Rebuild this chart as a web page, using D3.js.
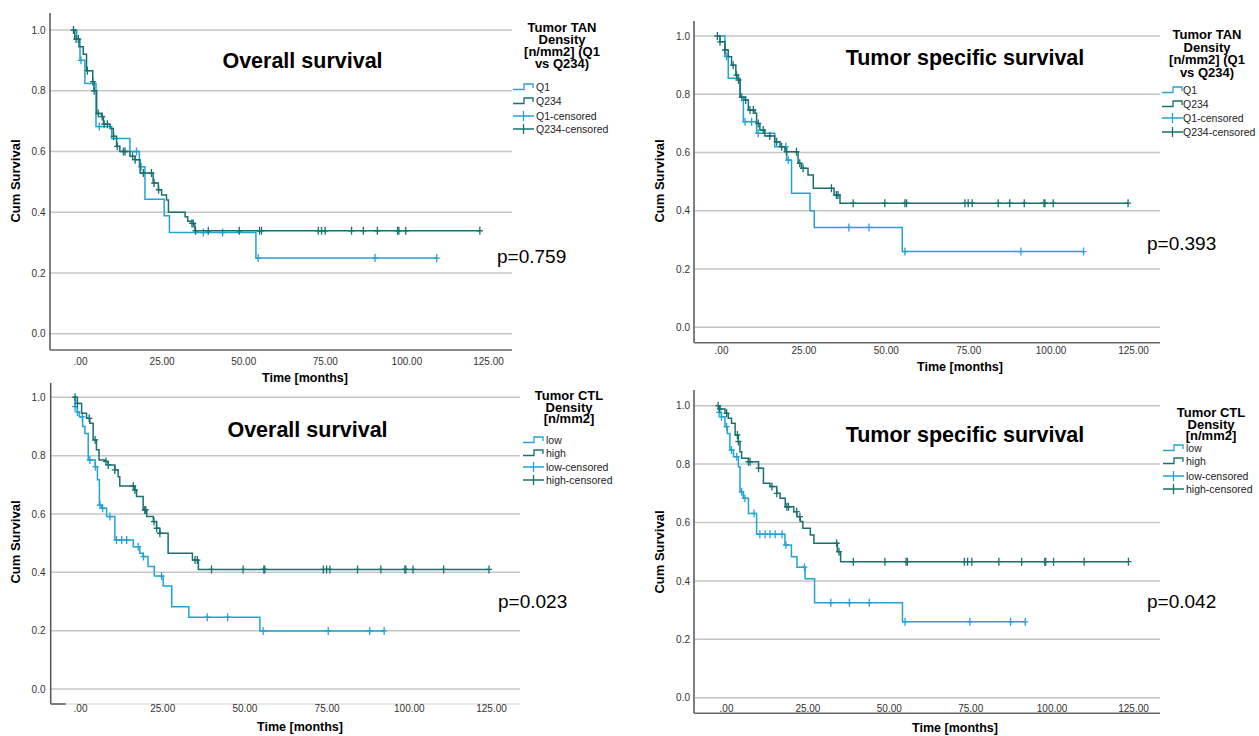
<!DOCTYPE html>
<html>
<head>
<meta charset="utf-8">
<script src="https://cdn.jsdelivr.net/npm/d3@7"></script>
<style>
  body { margin: 0; background: #fff; }
  svg { display: block; }
  text { font-family: "Liberation Sans", Arial, sans-serif; }
</style>
</head>
<body>
<svg id="chart" width="1259" height="736"></svg>
<script>
// axis ticks shared by the four panels
const xTicks = [0, 25, 50, 75, 100, 125];
const xTickLabels = [".00", "25.00", "50.00", "75.00", "100.00", "125.00"];
const yTicks = [0, 0.2, 0.4, 0.6, 0.8, 1.0];
const yTickLabels = ["0.0", "0.2", "0.4", "0.6", "0.8", "1.0"];

// Overall survival, TAN density (Q1 vs Q234): [months, cum survival]
const osTanQ1 = [[-2.2, 1], [-1, 0.97], [0, 0.9], [1.5, 0.824], [4.9, 0.682], [9.7, 0.643], [15.3, 0.6], [18.2, 0.55],
  [19.9, 0.443], [25.8, 0.388], [27.4, 0.333], [53.9, 0.249], [109.3, 0.249]];
const osTanQ1Cens = [0.3, 5.9, 17.3, 18.7, 37.8, 43.7, 54.6, 90.4, 109.3];
const osTanQ234 = [[-2.2, 1], [-1.6, 0.97], [-0.3, 0.945], [1.0, 0.92], [2.0, 0.866], [3.9, 0.83], [4.3, 0.8], [5.1, 0.725],
  [6.6, 0.715], [7.2, 0.69], [9.2, 0.676], [10.2, 0.65], [11.2, 0.617], [12.2, 0.6], [15.3, 0.584], [16.8, 0.573],
  [18.4, 0.529], [22.4, 0.496], [24, 0.474], [25, 0.457], [26.5, 0.44], [27.1, 0.4], [32.2, 0.385], [33, 0.37],
  [34.2, 0.363], [35.2, 0.339], [122.5, 0.339]];
const osTanQ234Cens = [-2.0, -1.2, -0.5, 2.25, 3.95, 4.35, 5.6, 6.8, 7.4, 8.4, 10.3, 11.4, 13.3, 13.8, 16.1, 16.9, 19.4,
  21.9, 22.7, 24.1, 34.3, 34.7, 35.4, 39.3, 48.8, 55, 55.6, 73, 74, 75.1, 83.2, 86.8, 91.1, 97.3, 97.7, 99.8, 122.5];

// Tumor specific survival, TAN density
const tssTanQ1 = [[-1.1, 1], [1.2, 0.93], [2.2, 0.855], [5.8, 0.79], [6.8, 0.706], [10.8, 0.666], [16.3, 0.62],
  [19.9, 0.574], [21.4, 0.46], [27, 0.4], [28.3, 0.343], [55, 0.26], [110, 0.26]];
const tssTanQ1Cens = [1.7, 7.3, 9.3, 11.3, 19.7, 20.4, 38.8, 44.9, 55.8, 91, 110];
const tssTanQ234 = [[-1.1, 1], [-0.3, 0.98], [1.2, 0.952], [2.2, 0.929], [3.2, 0.9], [4.5, 0.866], [5.2, 0.849],
  [5.8, 0.79], [7.3, 0.78], [8.3, 0.746], [10.3, 0.735], [10.8, 0.7], [11.8, 0.677], [13.3, 0.657], [16.3, 0.637],
  [17.9, 0.62], [19.4, 0.603], [23.4, 0.563], [24.4, 0.546], [26.4, 0.523], [28, 0.477], [34.3, 0.454],
  [36.1, 0.426], [123.5, 0.426]];
const tssTanQ234Cens = [-1.1, -0.3, 1.2, 3.7, 4.7, 5.3, 6.3, 7.5, 8.8, 9.8, 11.3, 12.8, 14.8, 16.9, 18.4, 19.9, 22.9,
  23.9, 24.9, 33.5, 35, 35.5, 40.1, 49.7, 55.8, 56.3, 74, 75, 76.2, 84.1, 87.6, 92, 98, 98.3, 100.8, 123.5];

// Overall survival, CTL density (low vs high)
const osCtlLow = [[-2, 1], [-1.5, 0.968], [-0.8, 0.95], [-0.2, 0.933], [0.8, 0.9], [1.5, 0.876], [2.5, 0.785],
  [4.6, 0.762], [5.3, 0.717], [5.9, 0.63], [6.6, 0.62], [8.1, 0.591], [10.6, 0.511], [16.2, 0.488], [18.2, 0.465],
  [19.2, 0.454], [20.7, 0.42], [22.6, 0.387], [25.3, 0.353], [27.9, 0.282], [33.1, 0.246], [54.7, 0.199], [92.5, 0.199]];
const osCtlLowCens = [-1.5, -0.8, 0.7, 3.0, 4.7, 6.1, 6.9, 9.1, 11.1, 12.7, 14.2, 17.7, 19.3, 24.8, 38.7, 44.9, 55.7,
  75.5, 88.1, 92.5];
const osCtlHigh = [[-2, 1], [-0.8, 0.979], [0.5, 0.945], [2, 0.928], [3, 0.911], [4, 0.854], [5, 0.82], [5.8, 0.785],
  [7.6, 0.78], [8.6, 0.768], [10.6, 0.751], [11.6, 0.728], [12.1, 0.696], [16.7, 0.682], [17.2, 0.66], [19.2, 0.614],
  [20.3, 0.591], [22.3, 0.574], [23.3, 0.551], [24.3, 0.534], [26.8, 0.465], [34.2, 0.442], [36, 0.41], [124.4, 0.41]];
const osCtlHighCens = [-1.5, -0.8, 2.8, 4.6, 7.9, 8.6, 10.6, 16.2, 16.7, 19.7, 20.0, 22.5, 23.3, 24.3, 35, 35.7, 40,
  49.6, 55.9, 56.2, 74, 75, 76, 84.4, 91.5, 98.8, 99.1, 101.3, 110.6, 124.4];

// Tumor specific survival, CTL density
const tssCtlLow = [[-2.7, 1], [-2.1, 0.977], [-1.4, 0.962], [-0.3, 0.928], [0.4, 0.905], [1.2, 0.848], [2.3, 0.825],
  [3.8, 0.791], [4.3, 0.705], [5.3, 0.683], [6.9, 0.631], [9.4, 0.56], [18.1, 0.523], [20.1, 0.483], [21.8, 0.447],
  [24.3, 0.407], [27.2, 0.325], [54.2, 0.26], [91.9, 0.26]];
const tssCtlLowCens = [-2.1, -1.4, 0.2, 1.7, 3.3, 4.8, 5.8, 8.6, 10.4, 12, 13.5, 15.1, 17.2, 18.4, 24.1, 32.2, 37.9,
  44, 55, 74.9, 87.4, 91.9];
const tssCtlHigh = [[-2.7, 1], [-1.9, 0.989], [-0.3, 0.974], [0.7, 0.957], [1.7, 0.94], [2.8, 0.9], [3.8, 0.877],
  [4.3, 0.842], [4.8, 0.82], [6.9, 0.808], [10, 0.786], [11.5, 0.734], [13.5, 0.723], [15.6, 0.7], [16.6, 0.683],
  [18.2, 0.654], [20.8, 0.637], [21.8, 0.62], [22.8, 0.603], [23.6, 0.58], [25.9, 0.557], [27, 0.529], [34.2, 0.5],
  [35.2, 0.466], [123.6, 0.466]];
const tssCtlHighCens = [-2.4, -1.9, 0.2, 3.5, 3.8, 6.9, 7.4, 10, 14.1, 15.6, 18.7, 19.2, 21.7, 22.7, 34, 34.7, 39.1,
  48.8, 55.3, 55.7, 73.2, 74.2, 75.5, 83.8, 90.8, 97.9, 98.2, 100.6, 110, 123.6];

const colors = ["#22a3d3", "#17716f"]; // light group, dark group

const panels = [
  { title: "Overall survival", legendTitle: ["Tumor TAN", "Density", "[n/mm2] (Q1", "vs Q234)"],
    groups: ["Q1", "Q234"], series: [osTanQ1, osTanQ234], censors: [osTanQ1Cens, osTanQ234Cens], p: "p=0.759",
    box: { left: 50, right: 512, top: 13, bottom: 350, x0: 80, x125: 488, y0: 333.7, y1: 30, xLabY: 365, yLabR: 45.5,
      titleX: 302.5, titleY: 68, legX: 562, legY: [32, 44, 56, 68], symX: 513, itemX: 536, itemY: [87, 101, 116, 129],
      pX: 497, pY: 263, timeX: 305, timeY: 382, cumX: 15, cumY: 181, faintBottom: false } },
  { title: "Tumor specific survival", legendTitle: ["Tumor TAN", "Density", "[n/mm2] (Q1", "vs Q234)"],
    groups: ["Q1", "Q234"], series: [tssTanQ1, tssTanQ234], censors: [tssTanQ1Cens, tssTanQ234Cens], p: "p=0.393",
    box: { left: 694, right: 1160, top: 21, bottom: 342.7, x0: 721, x125: 1133, y0: 327.3, y1: 36, xLabY: 354, yLabR: 690,
      titleX: 965, titleY: 65, legX: 1207, legY: [39, 51.5, 64, 76.5], symX: 1162, itemX: 1183, itemY: [90, 104, 118, 132],
      pX: 1147, pY: 250, timeX: 960, timeY: 371, cumX: 659, cumY: 181, faintBottom: false } },
  { title: "Overall survival", legendTitle: ["Tumor CTL", "Density", "[n/mm2]"],
    groups: ["low", "high"], series: [osCtlLow, osCtlHigh], censors: [osCtlLowCens, osCtlHighCens], p: "p=0.023",
    box: { left: 50.7, right: 520, top: 383, bottom: 704, x0: 80, x125: 491, y0: 689, y1: 397.3, xLabY: 712, yLabR: 45.5,
      titleX: 307.5, titleY: 437, legX: 569, legY: [400, 411.5, 423], symX: 523, itemX: 546, itemY: [440, 453, 467, 480],
      pX: 498, pY: 608, timeX: 300, timeY: 731, cumX: 15, cumY: 542, faintBottom: true } },
  { title: "Tumor specific survival", legendTitle: ["Tumor CTL", "Density", "[n/mm2]"],
    groups: ["low", "high"], series: [tssCtlLow, tssCtlHigh], censors: [tssCtlLowCens, tssCtlHighCens], p: "p=0.042",
    box: { left: 694, right: 1160, top: 390, bottom: 713.3, x0: 726, x125: 1133, y0: 697.7, y1: 405.7, xLabY: 712, yLabR: 690,
      titleX: 965, titleY: 442, legX: 1211, legY: [417, 428.5, 440], symX: 1163, itemX: 1186, itemY: [448, 461, 476, 489],
      pX: 1147, pY: 608, timeX: 955, timeY: 732, cumX: 659, cumY: 552, faintBottom: false } }
];

const svg = d3.select("#chart");

// value of a step curve at time t
function survAt(steps, t) {
  let s = steps[0][1];
  steps.forEach(d => { if (d[0] <= t) s = d[1]; });
  return s;
}

function drawPanel(p) {
  const b = p.box;
  const g = svg.append("g");
  const x = d3.scaleLinear().domain([0, 125]).range([b.x0, b.x125]);
  const y = d3.scaleLinear().domain([0, 1]).range([b.y0, b.y1]);

  // gridlines
  g.selectAll(".grid").data(yTicks).enter().append("line")
    .attr("x1", b.left).attr("x2", b.right)
    .attr("y1", d => y(d)).attr("y2", d => y(d))
    .attr("stroke", "#c6c6c6").attr("stroke-width", 1.5);

  // axis lines
  g.append("line").attr("x1", b.left).attr("x2", b.left).attr("y1", b.top).attr("y2", b.bottom)
    .attr("stroke", "#555").attr("stroke-width", 1.5);
  if (b.faintBottom) {
    g.append("line").attr("x1", b.left).attr("x2", b.right).attr("y1", b.bottom).attr("y2", b.bottom)
      .attr("stroke", "#e2e2e2").attr("stroke-width", 1.5);
    g.append("line").attr("x1", b.left).attr("x2", b.left + 15).attr("y1", b.bottom).attr("y2", b.bottom)
      .attr("stroke", "#555").attr("stroke-width", 1.5);
  } else {
    g.append("line").attr("x1", b.left).attr("x2", b.right).attr("y1", b.bottom).attr("y2", b.bottom)
      .attr("stroke", "#666").attr("stroke-width", 1.5);
  }

  // tick labels via d3 axes (no tick marks, no domain)
  const xAxis = g.append("g").attr("transform", `translate(0,${b.xLabY - 7})`)
    .call(d3.axisBottom(x).tickValues(xTicks).tickSize(0).tickPadding(0)
      .tickFormat((d, i) => xTickLabels[i]));
  const yAxis = g.append("g").attr("transform", `translate(${b.yLabR},0)`)
    .call(d3.axisLeft(y).tickValues(yTicks).tickSize(0).tickPadding(0)
      .tickFormat((d, i) => yTickLabels[i]));
  [xAxis, yAxis].forEach(a => {
    a.select(".domain").remove();
    a.selectAll("text").style("font-family", "'Liberation Sans', Arial, sans-serif")
      .style("font-size", "10px").attr("fill", "#333");
  });

  // survival curves
  const line = d3.line().x(d => x(d[0])).y(d => y(d[1])).curve(d3.curveStepAfter);
  p.series.forEach((s, i) => {
    g.append("path").datum(s).attr("d", line)
      .attr("fill", "none").attr("stroke", colors[i]).attr("stroke-width", 1.5);
    g.selectAll(null).data(p.censors[i]).enter().append("path")
      .attr("d", t => {
        const cx = x(t), cy = y(survAt(s, t));
        return `M${cx},${cy - 4}V${cy + 4}M${cx - 3},${cy}H${cx + 3}`;
      })
      .attr("stroke", colors[i]).attr("stroke-width", 1.3).attr("fill", "none");
  });

  // panel title
  g.append("text").attr("x", b.titleX).attr("y", b.titleY).attr("text-anchor", "middle")
    .style("font-size", "21.5px").style("font-weight", "bold").text(p.title);

  // axis titles
  g.append("text").attr("x", b.timeX).attr("y", b.timeY).attr("text-anchor", "middle")
    .style("font-size", "12.5px").style("font-weight", "bold").text("Time [months]");
  g.append("text").attr("transform", `translate(${b.cumX + 4.5},${b.cumY}) rotate(-90)`)
    .attr("text-anchor", "middle")
    .style("font-size", "13px").style("font-weight", "bold").text("Cum Survival");

  // p value
  g.append("text").attr("x", b.pX).attr("y", b.pY).style("font-size", "19px").text(p.p);

  // legend
  p.legendTitle.forEach((t, i) => {
    g.append("text").attr("x", b.legX).attr("y", b.legY[i]).attr("text-anchor", "middle")
      .style("font-size", "13px").style("font-weight", "bold").text(t);
  });
  const items = [
    { label: p.groups[0], color: colors[0], kind: "step" },
    { label: p.groups[1], color: colors[1], kind: "step" },
    { label: p.groups[0] + "-censored", color: colors[0], kind: "cens" },
    { label: p.groups[1] + "-censored", color: colors[1], kind: "cens" }
  ];
  items.forEach((it, i) => {
    const cy = b.itemY[i], sx = b.symX;
    const d = it.kind === "step"
      ? `M${sx},${cy + 2.5}H${sx + 11}V${cy - 3}H${sx + 20}V${cy + 1}`
      : `M${sx},${cy}H${sx + 21}M${sx + 10.5},${cy - 5}V${cy + 5}`;
    g.append("path").attr("d", d).attr("fill", "none").attr("stroke", it.color).attr("stroke-width", 1.3);
    g.append("text").attr("x", b.itemX).attr("y", cy + 3.8)
      .style("font-size", "10.5px").attr("fill", "#222").text(it.label);
  });
}

panels.forEach(drawPanel);
</script>
</body>
</html>
